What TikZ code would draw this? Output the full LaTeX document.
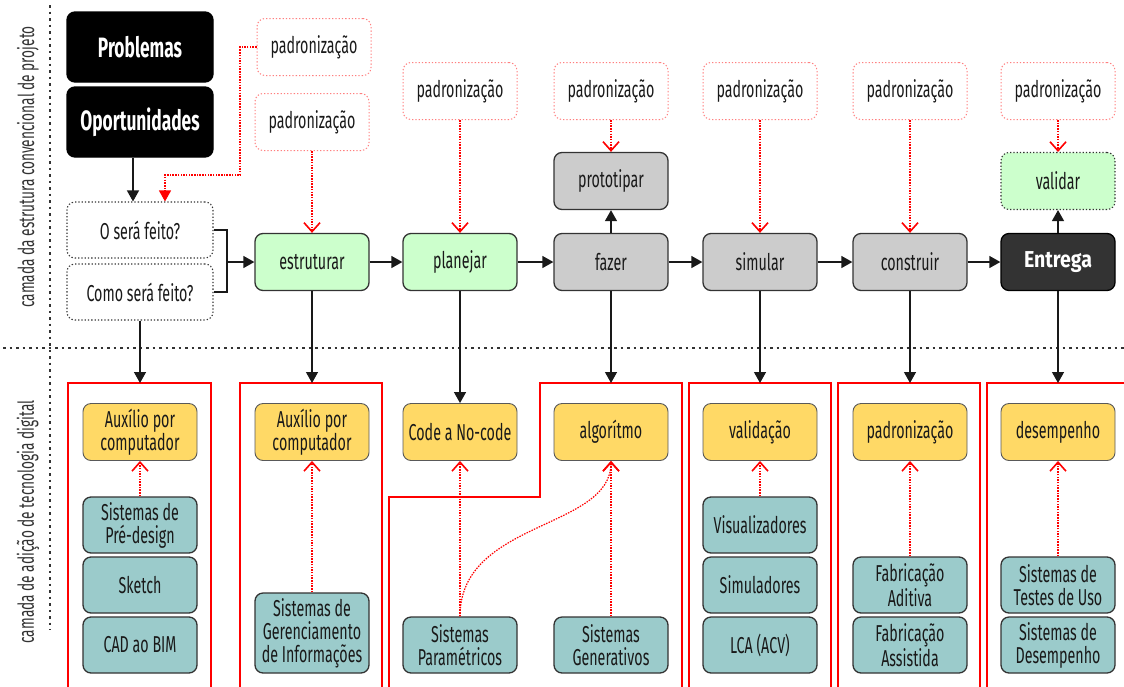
\documentclass[tikz,border=0pt]{standalone}
\usepackage{fontspec}
\setmainfont[FakeStretch=0.62]{Fira Sans}
\newfontfamily\entfont[FakeStretch=0.85]{Fira Sans}
\usepackage{tikz}
\usetikzlibrary{%
  arrows.meta,
  positioning,
  calc}
\definecolor{stepgreen}{HTML}{CCFFCC}
\definecolor{stepgray}{HTML}{CCCCCC}
\definecolor{techyellow}{HTML}{FFD966}
\definecolor{systeal}{HTML}{9BCBCB}
\definecolor{darkline}{HTML}{333333}
\definecolor{padred}{HTML}{FF7F7F}
\tikzset{
  %% Common box
  basebox/.style={
    rectangle, rounded corners=8pt,
    draw=darkline, line width=1.3pt,
    align=center, text=black!90, inner sep=2pt,
    font=\fontsize{23}{23}\selectfont},
  %% Problem / opportunity boxes
  probbox/.style={
    basebox, fill=black, draw=black, text=white,
    minimum width=146pt, minimum height=70pt,
    font=\fontsize{28}{30}\selectfont\bfseries},
  %% Question boxes
  askbox/.style={
    basebox, fill=white, dotted, line width=1.1pt,
    minimum width=146pt, minimum height=56pt},
  %% Standardisation boxes
  padbox/.style={
    basebox, draw=padred, dotted, line width=1pt,
    minimum width=114pt, minimum height=57pt},
  %% Process steps
  greenbox/.style={
    basebox, fill=stepgreen,
    minimum width=114pt, minimum height=57pt},
  graybox/.style={
    basebox, fill=stepgray,
    minimum width=114pt, minimum height=57pt},
  validbox/.style={
    greenbox, dotted, line width=1.1pt},
  entbox/.style={
    basebox, fill=darkline, draw=black, text=white,
    minimum width=114pt, minimum height=57pt,
    font=\entfont\fontsize{23}{24}\selectfont\bfseries},
  %% Digital layer boxes
  techbox/.style={
    basebox, fill=techyellow, draw=black!65, line width=0.9pt,
    minimum width=114pt, minimum height=57pt},
  sysbox/.style={
    basebox, fill=systeal,
    minimum width=114pt, minimum height=56pt},
  %% Lines
  layer/.style={draw=red, line width=1.1pt},
  sepline/.style={darkline, line width=1.4pt, dash pattern=on 2.5pt off 4pt},
  link/.style={line width=1.3pt, black!90},
  arrow/.style={-{Triangle[length=11pt,width=12pt]}, line width=1.3pt, black!90},
  rarrow/.style={-{Straight Barb[length=9pt,width=16pt,line width=1.6pt]},
    line width=1.2pt, red, dash pattern=on 1.5pt off 1.2pt},
  rfarrow/.style={-{Triangle[length=11pt,width=12pt]},
    line width=1.2pt, red, dash pattern=on 1.5pt off 1.2pt},
}

\begin{document}
\begin{tikzpicture}[x=1pt, y=-1pt]

  \useasboundingbox (0,0) rectangle (1124,686);
  \clip (0,0) rectangle (1124,686);

  %% Layer separators and labels
  \draw[sepline] (50,5) -- (50,630);
  \draw[sepline] (3,348) -- (1124,348);
  \node[rotate=90, text=darkline, font=\fontsize{22}{22}\selectfont] (lbltop) at (28,167)
    {camada da estrutura convencional de projeto};
  \node[rotate=90, text=darkline, font=\fontsize{22}{22}\selectfont] (lblbot) at (28,522)
    {camada de adição de tecnologia digital};

  %% Digital layer frames
  \draw[layer] (68,700) -- (68,383) -- (211,383) -- (211,700);
  \draw[layer] (240,700) -- (240,383) -- (382,383) -- (382,700);
  \draw[layer] (389,700) -- (389,497) -- (540,497) -- (540,383) -- (682,383) -- (682,700);
  \draw[layer] (689,700) -- (689,383) -- (831,383) -- (831,700);
  \draw[layer] (838,700) -- (838,383) -- (980,383) -- (980,700);
  \draw[layer] (987,700) -- (987,383) -- (1130,383);
  \coordinate (in1) at (140,383);
  \coordinate (in2) at (312,383);
  \coordinate (in4) at (611,383);
  \coordinate (in5) at (760,383);
  \coordinate (in6) at (910,383);
  \coordinate (in7) at (1058,383);

  %% Start
  \node[probbox] (prob) at (140,47)  {Problemas};
  \node[probbox] (opor) at (140,122) {Oportunidades};
  \node[askbox]  (what) at (140,230) {O será feito?};
  \node[askbox]  (how)  at (140,292) {Como será feito?};

  %% Standardisation row
  \node[padbox] (pad0) at (314,47)  {padronização};
  \node[padbox] (pad1) at (312,122) {padronização};
  \node[padbox] (pad2) at (460,91)  {padronização};
  \node[padbox] (pad3) at (611,91)  {padronização};
  \node[padbox] (pad4) at (760,91)  {padronização};
  \node[padbox] (pad5) at (910,91)  {padronização};
  \node[padbox] (pad6) at (1058,91) {padronização};

  %% Process row
  \node[greenbox] (estr)  at (312,262)  {estruturar};
  \node[greenbox] (plan)  at (460,262)  {planejar};
  \node[graybox]  (proto) at (611,181)  {prototipar};
  \node[graybox]  (fazer) at (611,262)  {fazer};
  \node[graybox]  (simu)  at (760,262)  {simular};
  \node[graybox]  (cons)  at (910,262)  {construir};
  \node[validbox] (vali)  at (1058,181) {validar};
  \node[entbox]   (entr)  at (1058,262) {Entrega};

  %% Digital layer: aims
  \node[techbox] (aux1)  at (140,432)  {Auxílio por\\computador};
  \node[techbox] (aux2)  at (312,432)  {Auxílio por\\computador};
  \node[techbox] (code)  at (460,432)  {Code a No-code};
  \node[techbox] (algo)  at (611,432)  {algorítmo};
  \node[techbox] (valid) at (760,432)  {validação};
  \node[techbox] (padr)  at (910,432)  {padronização};
  \node[techbox] (dese)  at (1058,432) {desempenho};

  %% Digital layer: systems
  \node[sysbox] (pre)   at (140,525)  {Sistemas de\\Pré-design};
  \node[sysbox] (sket)  at (140,585)  {Sketch};
  \node[sysbox] (cad)   at (140,645)  {CAD ao BIM};
  \node[sysbox, minimum height=80pt] (gere) at (312,633)
    {Sistemas de\\Gerenciamento\\de Informações};
  \node[sysbox] (param) at (460,645)  {Sistemas\\Paramétricos};
  \node[sysbox] (gene)  at (611,645)  {Sistemas\\Generativos};
  \node[sysbox] (visu)  at (760,525)  {Visualizadores};
  \node[sysbox] (simd)  at (760,585)  {Simuladores};
  \node[sysbox] (lca)   at (760,645)  {LCA (ACV)};
  \node[sysbox] (adit)  at (910,585)  {Fabricação\\Aditiva};
  \node[sysbox] (assi)  at (910,645)  {Fabricação\\Assistida};
  \node[sysbox] (test)  at (1058,585) {Sistemas de\\Testes de Uso};
  \node[sysbox] (perf)  at (1058,645) {Sistemas de\\Desempenho};

  %% Process flow
  \draw[arrow] ([xshift=-7pt]opor.south) -- ([xshift=-7pt]what.north);
  \coordinate (askjoin) at (227,262);
  \draw[link] (what.east) -| (askjoin) |- (how.east);
  \draw[arrow] (askjoin) -- (estr.west);
  \draw[arrow] (estr) -- (plan);  \draw[arrow] (plan) -- (fazer);
  \draw[arrow] (fazer) -- (simu); \draw[arrow] (simu) -- (cons);
  \draw[arrow] (cons) -- (entr);
  \draw[arrow] (fazer) -- (proto); \draw[arrow] (entr) -- (vali);

  %% Standardisation links
  \coordinate (padbend) at (240,175);
  \draw[rfarrow] (pad0.west) -| (padbend) -| ([xshift=25pt]what.north);
  \draw[rarrow] (pad1) -- (estr);  \draw[rarrow] (pad2) -- (plan);
  \draw[rarrow] (pad3) -- (proto); \draw[rarrow] (pad4) -- (simu);
  \draw[rarrow] (pad5) -- (cons);  \draw[rarrow] (pad6) -- (vali);

  %% Down into the digital layer
  \draw[arrow] (how.south) -- (in1);
  \draw[arrow] (estr.south) -- (in2);
  \draw[arrow] (plan.south) -- (code.north);
  \draw[arrow] (fazer.south) -- (in4);
  \draw[arrow] (simu.south) -- (in5);
  \draw[arrow] (cons.south) -- (in6);
  \draw[arrow] (entr.south) -- (in7);

  %% Systems to aims
  \draw[rarrow] (pre) -- (aux1);   \draw[rarrow] (gere) -- (aux2);
  \draw[rarrow] (param) -- (code); \draw[rarrow] (gene) -- (algo);
  \draw[rarrow] (visu) -- (valid); \draw[rarrow] (adit) -- (padr);
  \draw[rarrow] (test) -- (dese);
  \draw[rarrow] (param.north) .. controls (460,520) and (611,530) .. (algo.south);

\end{tikzpicture}
\end{document}
